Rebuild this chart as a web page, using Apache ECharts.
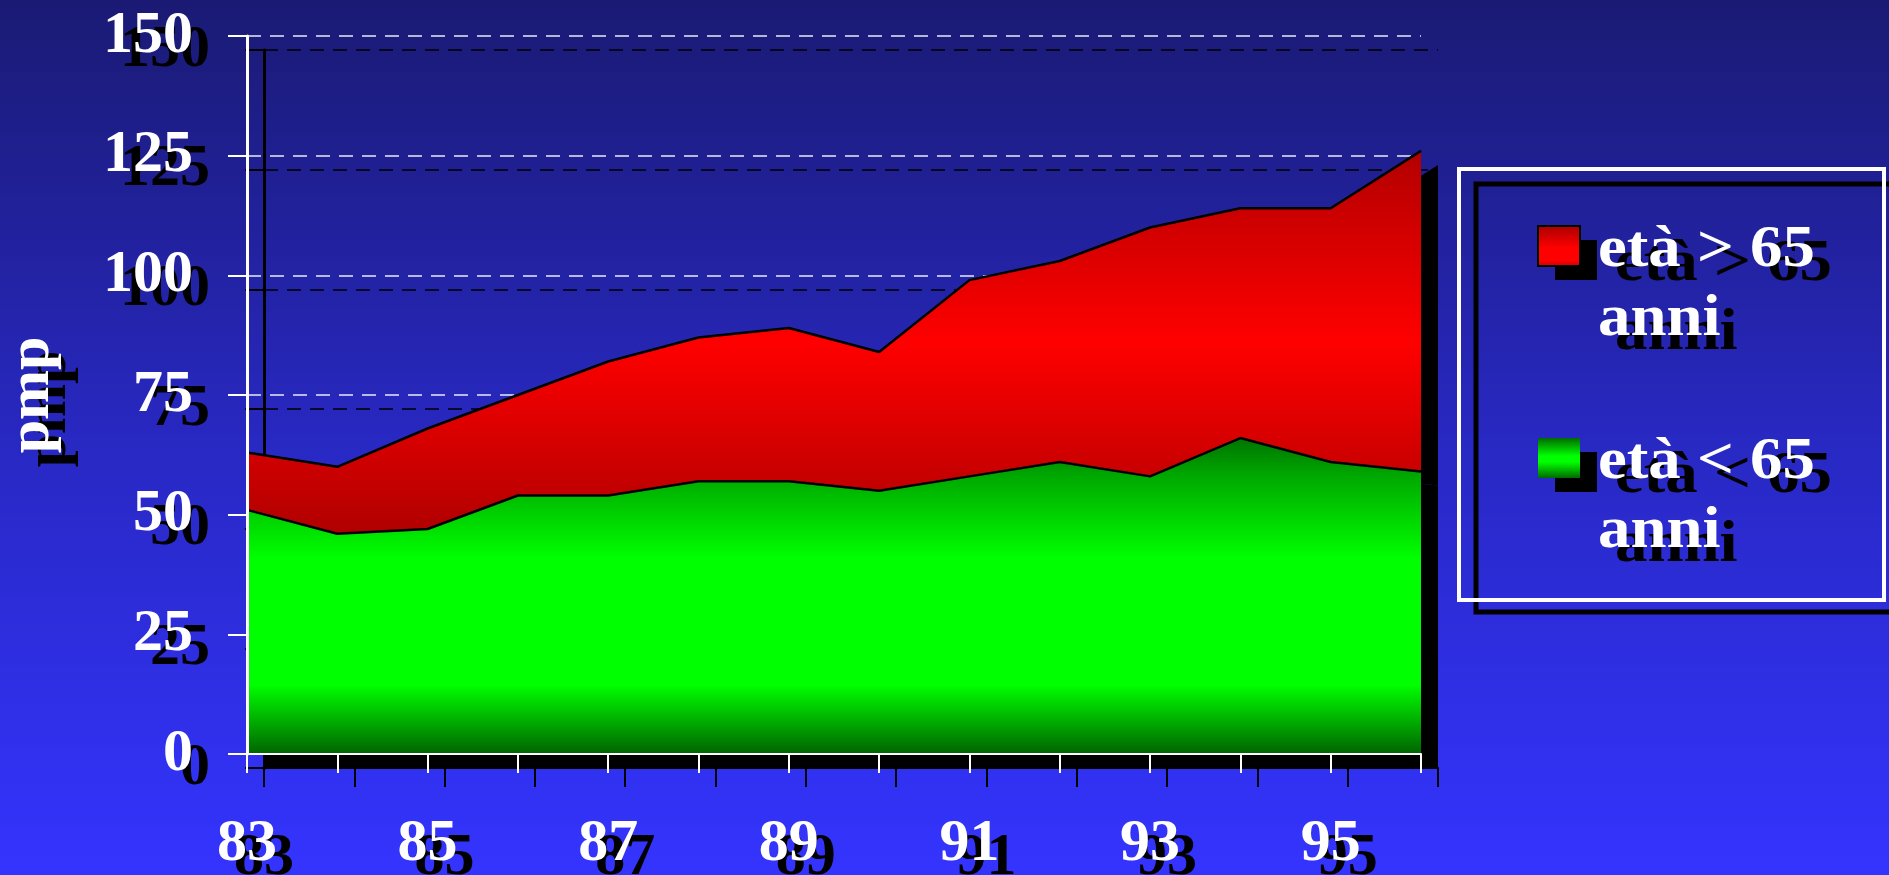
<!DOCTYPE html>
<html>
<head>
<meta charset="utf-8">
<script src="https://cdn.jsdelivr.net/npm/echarts@6/dist/echarts.min.js"></script>
<style>
html,body{margin:0;padding:0;background:#1a1a75;}
#chart{width:1889px;height:875px;}
</style>
</head>
<body>
<div id="chart"></div>
<script>
// ---- data ----
const years = ['83','84','85','86','87','88','89','90','91','92','93','94','95','96'];
const under65 = [51,46,47,54,54,57,57,55,58,61,58,66,61,59];   // età < 65 anni
const over65  = [12,14,21,21,28,30,32,29,41,42,52,48,53,67];   // età > 65 anni (stacked on top)
const seriesNames = ['età < 65\nanni', 'età > 65\nanni'];
const yAxisTitle = 'pmp';
const yMin = 0, yMax = 150, yStep = 25;

// ---- styling ----
const FONT = "'Liberation Serif','Times New Roman',serif";
const FS = 60;
const SX = 17, SY = 14; // drop shadow offset

const G = (stops) => new echarts.graphic.LinearGradient(0, 0, 0, 1, stops.map((c) => ({offset: c[0], color: c[1]})));
const redGrad = () => G([[0,'#b20000'],[0.5,'#ff0000'],[1,'#b00000']]);
const greenGrad = () => G([[0,'#007400'],[0.12,'#00a800'],[0.38,'#00ff00'],[0.78,'#00ff00'],[1,'#006400']]);

const chart = echarts.init(document.getElementById('chart'), null, {renderer: 'canvas'});

function labelStyle(color) {
  return {color: color, fontFamily: FONT, fontWeight: 'bold', fontSize: FS};
}

function yAxisDef(gridIndex, color, opts) {
  return Object.assign({
    type: 'value', gridIndex: gridIndex, position: 'left', min: yMin, max: yMax, interval: yStep,
    axisLine: {show: true, lineStyle: {color: color, width: 3}},
    axisTick: {show: true, length: 19, lineStyle: {color: color, width: 2}},
    axisLabel: Object.assign({margin: 54}, labelStyle(color)),
    splitLine: {show: false},
    name: yAxisTitle, nameLocation: 'middle', nameRotate: 90, nameGap: 185,
    nameTextStyle: labelStyle(color)
  }, opts || {});
}

function xAxisDef(gridIndex, color, z) {
  return {
    type: 'category', gridIndex: gridIndex, position: 'bottom', data: years, boundaryGap: false, z: z,
    axisLine: {show: true, lineStyle: {color: color, width: 2}},
    axisTick: {show: true, length: 19, interval: 0, lineStyle: {color: color, width: 2}},
    axisLabel: Object.assign({interval: 1, margin: 60}, labelStyle(color)),
    splitLine: {show: false}
  };
}

const legendX = 1538, legendY = 226, legendGapY = 212;
const legendItems = [
  {name: seriesNames[1], grad: () => G([[0,'#a80000'],[0.55,'#ff0000'],[0.85,'#ff0000'],[1,'#c00000']])},
  {name: seriesNames[0], grad: () => G([[0,'#006a00'],[0.45,'#00ff00'],[0.6,'#00ff00'],[1,'#006a00']])}
];
const graphics = [
  {type: 'rect', z: 10, shape: {x: 1476, y: 184, width: 440, height: 428}, style: {fill: 'none', stroke: '#000', lineWidth: 5}},
  {type: 'rect', z: 11, shape: {x: 1459, y: 169, width: 425, height: 431}, style: {fill: 'none', stroke: '#ffffff', lineWidth: 4}}
];
legendItems.forEach((it, i) => {
  const y = legendY + i * legendGapY;
  graphics.push({type: 'rect', z: 12, shape: {x: legendX + SX, y: y + SY, width: 42, height: 40}, style: {fill: '#000'}});
  graphics.push({type: 'rect', z: 13, shape: {x: legendX, y: y, width: 42, height: 40}, style: {fill: it.grad(), stroke: '#000', lineWidth: i === 0 ? 2 : 0}});
  graphics.push({type: 'text', z: 12, x: 1598 + SX, y: y - 10 + SY, scaleX: 1.08, style: {text: it.name, fill: '#000', font: 'bold ' + FS + 'px ' + FONT, lineHeight: 69}});
  graphics.push({type: 'text', z: 13, x: 1598, y: y - 10, scaleX: 1.08, style: {text: it.name, fill: '#ffffff', font: 'bold ' + FS + 'px ' + FONT, lineHeight: 69}});
});

const option = {
  animation: false,
  backgroundColor: new echarts.graphic.LinearGradient(0, 0, 0, 1, [
    {offset: 0, color: '#1a1a74'}, {offset: 0.5, color: '#2828c2'}, {offset: 1, color: '#3434ff'}
  ]),
  grid: [
    {left: 247 + SX, top: 36 + SY, width: 1174, height: 718, containLabel: false, outerBoundsMode: 'none'},  // shadow
    {left: 247, top: 36, width: 1174, height: 718, containLabel: false, outerBoundsMode: 'none'}             // main
  ],
  xAxis: [
    xAxisDef(0, '#000000', 0),
    xAxisDef(1, '#ffffff', 5)
  ],
  yAxis: [
    // shadow axis with black dashed split lines
    yAxisDef(0, '#000000', {z: 0, splitLine: {show: true, lineStyle: {color: '#000', width: 1.5, type: [14, 9]}}}),
    // main split lines only (below series)
    {type: 'value', gridIndex: 1, position: 'left', min: yMin, max: yMax, interval: yStep, z: 0,
      axisLine: {show: false}, axisTick: {show: false}, axisLabel: {show: false},
      splitLine: {show: true, lineStyle: {color: 'rgba(255,255,255,0.9)', width: 1.5, type: [14, 9]}}},
    // main axis line / ticks / labels (above series)
    yAxisDef(1, '#ffffff', {z: 5})
  ],
  series: [
    {name: 'shadow-' + seriesNames[0], type: 'line', xAxisIndex: 0, yAxisIndex: 0, stack: 'sh', data: under65,
      symbol: 'none', z: 1, lineStyle: {width: 0}, areaStyle: {color: '#000', opacity: 1}},
    {name: 'shadow-' + seriesNames[1], type: 'line', xAxisIndex: 0, yAxisIndex: 0, stack: 'sh', data: over65,
      symbol: 'none', z: 1, lineStyle: {width: 0}, areaStyle: {color: '#000', opacity: 1}},
    {name: seriesNames[0], type: 'line', xAxisIndex: 1, yAxisIndex: 1, stack: 'main', data: under65,
      symbol: 'none', z: 3, lineStyle: {color: '#000', width: 2.5}, itemStyle: {color: '#00ff00'},
      areaStyle: {color: greenGrad(), opacity: 1}},
    {name: seriesNames[1], type: 'line', xAxisIndex: 1, yAxisIndex: 1, stack: 'main', data: over65,
      symbol: 'none', z: 3, lineStyle: {color: '#000', width: 2.5}, itemStyle: {color: '#ff0000'},
      areaStyle: {color: redGrad(), opacity: 1}}
  ],
  graphic: graphics
};
chart.setOption(option);
</script>
</body>
</html>
